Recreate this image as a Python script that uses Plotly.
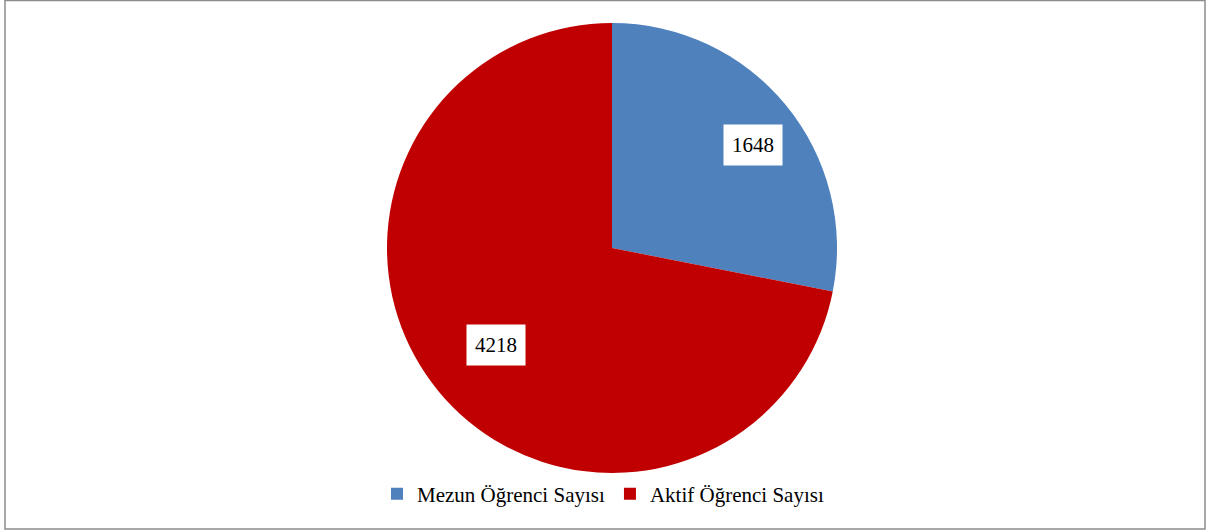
import math
import plotly.graph_objects as go

labels = ["Mezun Öğrenci Sayısı", "Aktif Öğrenci Sayısı"]
values = [1648, 4218]
colors = ["#4F81BD", "#C00000"]
label_radius = [0.77, 0.67]        # fraction of radius for data labels
label_shift = [(7, 7), (0, 1)]     # small pixel nudges (right, down)

W, H = 1206, 531
dom_x = [387 / W, 837 / W]
dom_y = [1 - 473 / H, 1 - 23 / H]
R = 225
SERIF = "Times New Roman, Liberation Serif, DejaVu Serif, serif"

fig = go.Figure(go.Pie(
    labels=labels, values=values, sort=False, direction="clockwise", rotation=0,
    marker=dict(colors=colors, line=dict(width=0)),
    textinfo="none", hoverinfo="label+value",
    domain=dict(x=dom_x, y=dom_y),
))

cx = (dom_x[0] + dom_x[1]) / 2
cy = (dom_y[0] + dom_y[1]) / 2
total = sum(values)
start = 0.0
annotations = []
for v, f, (sx, sy) in zip(values, label_radius, label_shift):
    mid = (start + v / 2) / total * 2 * math.pi
    start += v
    x = cx + (f * R * math.sin(mid) + sx) / W
    y = cy + (f * R * math.cos(mid) - sy) / H
    annotations.append(dict(
        x=x, y=y, xref="paper", yref="paper", text=str(v), showarrow=False,
        font=dict(family=SERIF, size=21, color="black"),
        bgcolor="white", borderpad=8, xanchor="center", yanchor="middle",
    ))

fig.update_layout(
    width=W, height=H,
    margin=dict(l=0, r=0, t=0, b=0),
    paper_bgcolor="white", plot_bgcolor="white",
    showlegend=True,
    legend=dict(orientation="h", x=0.5, xanchor="center", y=1 - 494 / H, yanchor="middle",
                font=dict(family=SERIF, size=21, color="black"),
                itemwidth=30, traceorder="normal"),
    annotations=annotations,
    shapes=[dict(type="rect", xref="paper", yref="paper",
                 x0=5 / W, x1=1205 / W, y0=1 - 529 / H, y1=1 - 0.5 / H,
                 line=dict(color="#8C8C8C", width=1.5), fillcolor="rgba(0,0,0,0)")],
)

fig.write_html("out.html", config={"displayModeBar": False})
with open("out.html", encoding="utf-8") as fh:
    html = fh.read()
html = html.replace("<body>", '<body style="margin:0;overflow:hidden">', 1)
with open("out.html", "w", encoding="utf-8") as fh:
    fh.write(html)
